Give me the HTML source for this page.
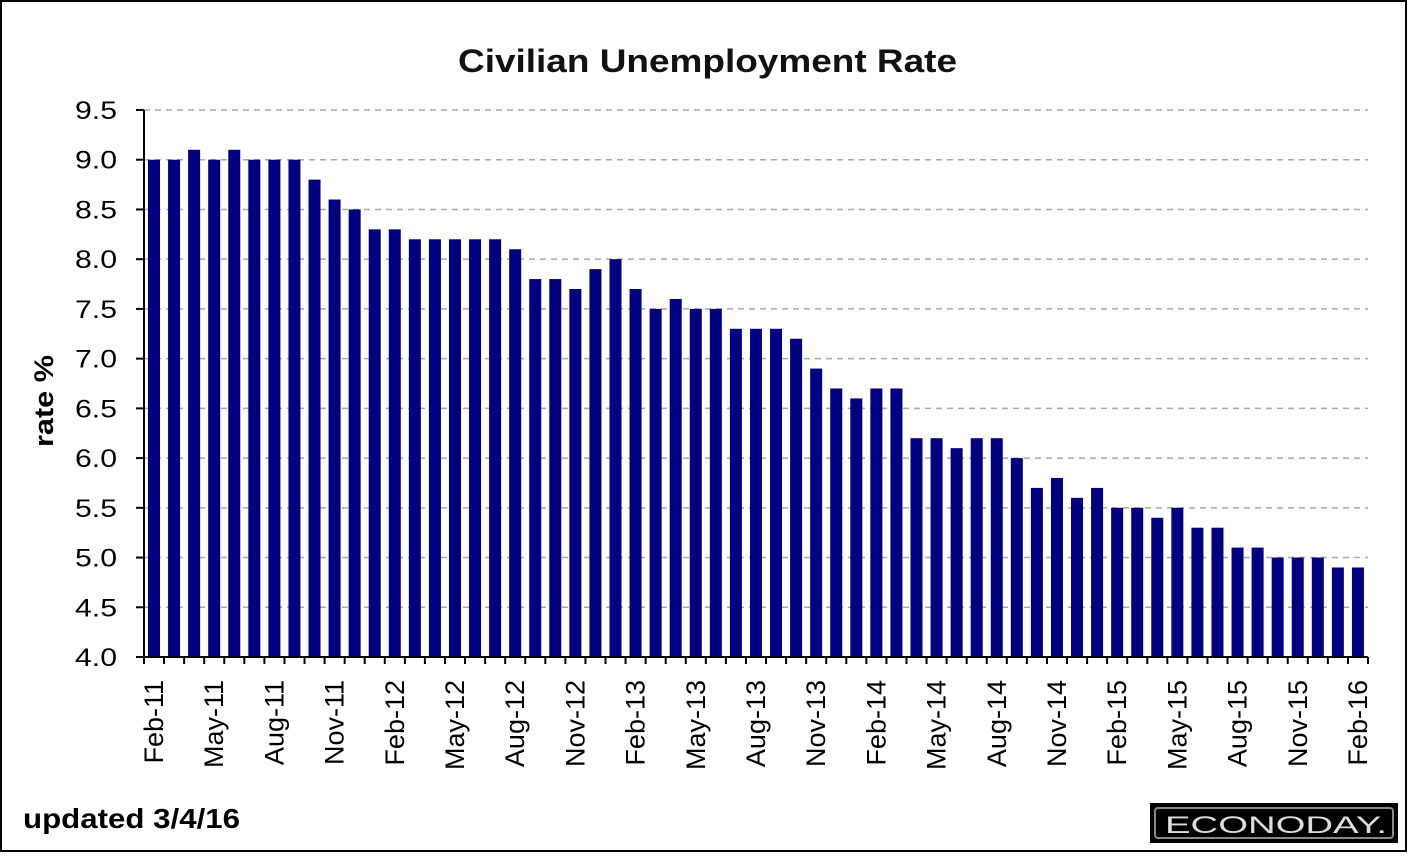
<!DOCTYPE html>
<html><head><meta charset="utf-8"><style>
html,body{margin:0;padding:0;background:#fff;}
body{width:1408px;height:853px;overflow:hidden;font-family:"Liberation Sans",Arial,sans-serif;}
</style></head><body>
<svg width="1408" height="853" xmlns="http://www.w3.org/2000/svg" font-family="Liberation Sans, Arial, sans-serif">
<rect x="1" y="1" width="1405" height="850" fill="#fff" stroke="#000" stroke-width="2"/>
<text x="458" y="72" textLength="499" lengthAdjust="spacingAndGlyphs" font-size="32" font-weight="bold" fill="#111">Civilian Unemployment Rate</text>
<text transform="translate(53,447) rotate(-90)" textLength="92" lengthAdjust="spacingAndGlyphs" font-size="27" font-weight="bold" fill="#000">rate %</text>
<g id="grid"></g><g id="bars"></g><g id="axes"></g>
<text x="23" y="828" textLength="217" lengthAdjust="spacingAndGlyphs" font-size="28" font-weight="bold" fill="#000">updated 3/4/16</text>
<g>
<rect x="1150" y="803" width="248" height="40" fill="#000"/>
<rect x="1155" y="808" width="238" height="30" fill="none" stroke="#888" stroke-width="2" rx="3"/>
<text x="1165" y="833" textLength="222" lengthAdjust="spacingAndGlyphs" font-size="24" fill="#ddd">ECONODAY.</text>
</g>
</svg>
<script>
const categories=["Feb-11","Mar-11","Apr-11","May-11","Jun-11","Jul-11","Aug-11","Sep-11","Oct-11","Nov-11","Dec-11","Jan-12","Feb-12","Mar-12","Apr-12","May-12","Jun-12","Jul-12","Aug-12","Sep-12","Oct-12","Nov-12","Dec-12","Jan-13","Feb-13","Mar-13","Apr-13","May-13","Jun-13","Jul-13","Aug-13","Sep-13","Oct-13","Nov-13","Dec-13","Jan-14","Feb-14","Mar-14","Apr-14","May-14","Jun-14","Jul-14","Aug-14","Sep-14","Oct-14","Nov-14","Dec-14","Jan-15","Feb-15","Mar-15","Apr-15","May-15","Jun-15","Jul-15","Aug-15","Sep-15","Oct-15","Nov-15","Dec-15","Jan-16","Feb-16"];
const rates=[9.0,9.0,9.1,9.0,9.1,9.0,9.0,9.0,8.8,8.6,8.5,8.3,8.3,8.2,8.2,8.2,8.2,8.2,8.1,7.8,7.8,7.7,7.9,8.0,7.7,7.5,7.6,7.5,7.5,7.3,7.3,7.3,7.2,6.9,6.7,6.6,6.7,6.7,6.2,6.2,6.1,6.2,6.2,6.0,5.7,5.8,5.6,5.7,5.5,5.5,5.4,5.5,5.3,5.3,5.1,5.1,5.0,5.0,5.0,4.9,4.9];
const yTicks=["4.0","4.5","5.0","5.5","6.0","6.5","7.0","7.5","8.0","8.5","9.0","9.5"];
const NS="http://www.w3.org/2000/svg";
const X0=144,X1=1368,Y0=657,Y1=110,YMIN=4,YMAX=9.5;
const slot=(X1-X0)/categories.length;
function yScale(v){return Y0-(v-YMIN)/(YMAX-YMIN)*(Y0-Y1);}
function xScale(i){return X0+i*slot;}
function mk(tag,attrs,parent){const e=document.createElementNS(NS,tag);for(const k in attrs)e.setAttribute(k,attrs[k]);parent.appendChild(e);return e;}
const grid=document.getElementById('grid'),bars=document.getElementById('bars'),axes=document.getElementById('axes');
yTicks.forEach(t=>{const y=yScale(parseFloat(t));
 if(parseFloat(t)>YMIN){const g=mk('line',{x1:X0,x2:X1,y1:y,y2:y,stroke:'#aaa','stroke-width':1.5,'stroke-dasharray':'6,5'},grid);
 
 }
 const tk=mk('line',{x1:X0-8,x2:X0,y1:y,y2:y,stroke:'#000','stroke-width':2},axes);
 
 
 const tx=mk('text',{x:75,y:y+9,textLength:42,lengthAdjust:'spacingAndGlyphs','font-size':25,fill:'#000'},axes);tx.textContent=t;
 
 
});
rates.forEach((v,i)=>{const x=xScale(i)+4,y=yScale(v);
 const r=mk('rect',{x:x,y:y,width:12,height:Y0-y,fill:'#000080'},bars);
 
 
});
const ya=mk('line',{x1:X0,x2:X0,y1:Y1,y2:Y0,stroke:'#000','stroke-width':2},axes);


const xa=mk('line',{x1:X0,x2:X1,y1:Y0,y2:Y0,stroke:'#000','stroke-width':2},axes);


for(let i=0;i<=categories.length;i++){const x=xScale(i);
 const t=mk('line',{x1:x,x2:x,y1:Y0,y2:Y0+7,stroke:'#000','stroke-width':2},axes);
 
 }
categories.forEach((c,i)=>{if(i%3!==0)return;const x=xScale(i)+slot/2+9;
 const t=mk('text',{transform:`translate(${x},680) rotate(-90)`,'text-anchor':'end','font-size':27,fill:'#000'},axes);t.textContent=c;
 
 
});
</script>
</body></html>
